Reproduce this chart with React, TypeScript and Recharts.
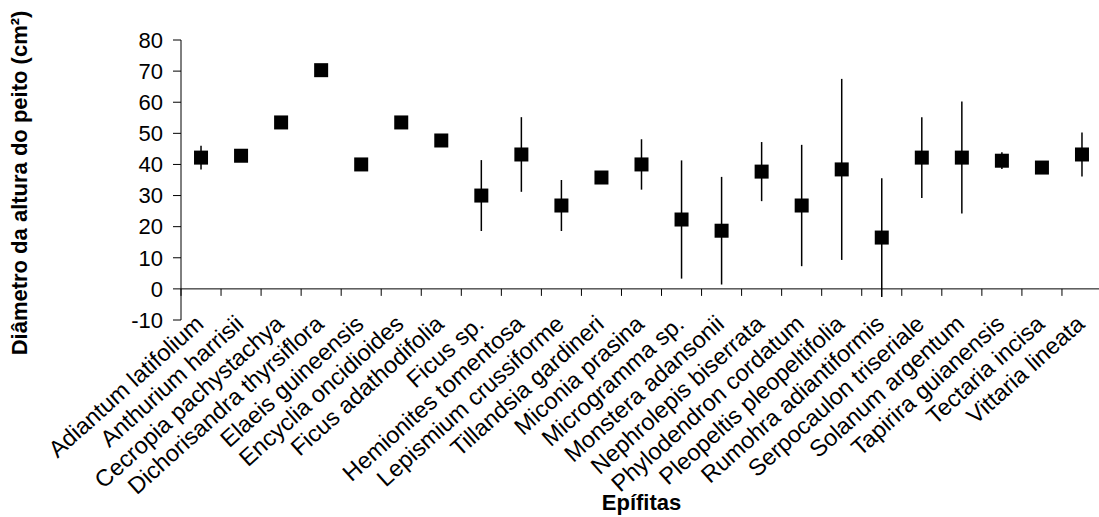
import { ErrorBar, Label, ReferenceLine, Scatter, ScatterChart, XAxis, YAxis } from "recharts";

const species = [
  "Adiantum latifolium",
  "Anthurium harrisii",
  "Cecropia pachystachya",
  "Dichorisandra thyrsiflora",
  "Elaeis guineensis",
  "Encyclia oncidioides",
  "Ficus adathodifolia",
  "Ficus sp.",
  "Hemionites tomentosa",
  "Lepismium crussiforme",
  "Tillandsia gardineri",
  "Miconia prasina",
  "Microgramma sp.",
  "Monstera adansonii",
  "Nephrolepis biserrata",
  "Phylodendron cordatum",
  "Pleopeltis pleopeltifolia",
  "Rumohra adiantiformis",
  "Serpocaulon triseriale",
  "Solanum argentum",
  "Tapirira guianensis",
  "Tectaria incisa",
  "Vittaria lineata",
];

// mean DAP per species
const means = [
  42.2, 42.8, 53.5, 70.3, 40.0, 53.5, 47.7, 30.0, 43.2, 26.8, 35.8, 40.0, 22.3, 18.7, 37.7, 26.8, 38.4, 16.5, 42.2,
  42.2, 41.2, 39.0, 43.2,
];

// standard deviation, null where the original has no bar
const deviations = [
  3.8, null, null, null, null, null, null, 11.4, 12.0, 8.2, null, 8.1, 19.0, 17.3, 9.5, 19.5, 29.1, 19.1, 13.0, 18.0,
  2.7, null, 7.1,
];

const yTicks = [-10, 0, 10, 20, 30, 40, 50, 60, 70, 80];

const FONT = "'Liberation Sans', Arial, sans-serif";

type Row = { x: number; mean: number; sd: number | null };

const rows: Row[] = species.map((_, i) => ({ x: i + 0.5, mean: means[i], sd: deviations[i] }));
const xTicks = rows.map((r) => r.x);

function SpeciesTick({ x, y, payload }: any) {
  const name = species[Math.floor(payload.value)];
  const tx = x + 4;
  return (
    <text x={tx} y={y} textAnchor="end" transform={`rotate(-42, ${tx}, ${y})`} fontSize={23.5} fill="#000" fontFamily={FONT}>
      {name}
    </text>
  );
}

// axis line drawn at y = 0 with tick marks between the categories
function ZeroAxis(props: any) {
  const { x1, x2, y1 } = props;
  const step = (x2 - x1) / species.length;
  return (
    <g>
      <line x1={x1} x2={x2} y1={y1} y2={y1} stroke="#000" strokeWidth={1} />
      {Array.from({ length: species.length + 1 }, (_, k) => (
        <line key={k} x1={x1 + k * step} x2={x1 + k * step} y1={y1} y2={y1 + 7} stroke="#000" strokeWidth={1} />
      ))}
    </g>
  );
}

function YTitle({ viewBox }: any) {
  const tx = viewBox.x + 27;
  const ty = viewBox.y + viewBox.height / 2 + 3;
  return (
    <text x={tx} y={ty} textAnchor="middle" transform={`rotate(-90, ${tx}, ${ty})`} fontSize={22} fontWeight="bold" fill="#000" fontFamily={FONT}>
      Diâmetro da altura do peito (cm²)
    </text>
  );
}

function XTitle({ viewBox }: any) {
  return (
    <text x={viewBox.x + viewBox.width / 2} y={viewBox.y + 190} textAnchor="middle" fontSize={22} fontWeight="bold" fill="#000" fontFamily={FONT}>
      Epífitas
    </text>
  );
}

const square = (p: any) => <rect x={p.cx - 7} y={p.cy - 7} width={14} height={14} fill="#000" />;

export default function App() {
  return (
    <div style={{ position: "absolute", left: 0, top: 0, width: 1099, height: 517, overflow: "hidden", background: "#fff" }}>
      <ScatterChart width={1103} height={517} margin={{ top: 40, right: 1, bottom: 0, left: 0 }}>
        <XAxis
          type="number"
          dataKey="x"
          domain={[0, species.length]}
          ticks={xTicks}
          interval={0}
          height={197}
          axisLine={false}
          tickLine={false}
          tickSize={0}
          tickMargin={6}
          tick={<SpeciesTick />}
        >
          <Label content={<XTitle />} />
        </XAxis>
        <YAxis
          type="number"
          dataKey="mean"
          domain={[-10, 80]}
          ticks={yTicks}
          interval={0}
          width={181}
          stroke="#000"
          tickSize={8}
          tickMargin={10}
          tick={{ fontSize: 22, fill: "#000", fontFamily: FONT }}
        >
          <Label content={<YTitle />} />
        </YAxis>
        <ReferenceLine y={0} shape={ZeroAxis} />
        <Scatter data={rows} shape={square} isAnimationActive={false}>
          <ErrorBar dataKey="sd" direction="y" width={0} stroke="#000" strokeWidth={1.5} isAnimationActive={false} />
        </Scatter>
      </ScatterChart>
    </div>
  );
}
